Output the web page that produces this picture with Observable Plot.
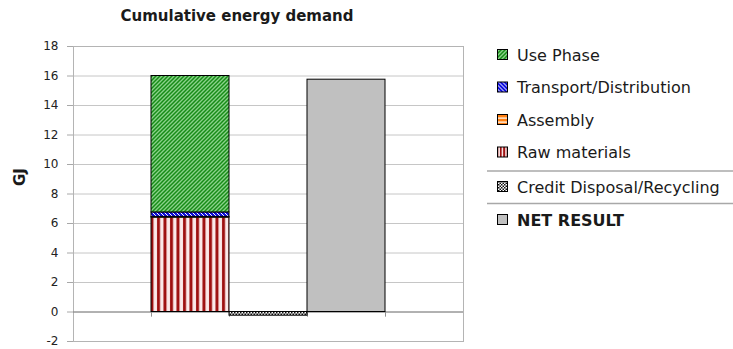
<!DOCTYPE html>
<html>
<head>
<meta charset="utf-8">
<script src="https://cdn.jsdelivr.net/npm/d3@7"></script>
<script src="https://cdn.jsdelivr.net/npm/@observablehq/plot@0.6"></script>
<style>
  html, body { margin: 0; padding: 0; background: #fff; }
  #wrap { position: relative; width: 733px; height: 349px; overflow: hidden; font-family: "DejaVu Sans", sans-serif; }
  #wrap > svg { position: absolute; left: 0; top: 0; }
</style>
</head>
<body>
<!-- hatch fills shared by the bars and the legend keys -->
<svg width="0" height="0" style="position:absolute">
  <defs>
    <pattern id="pat-use" patternUnits="userSpaceOnUse" width="4" height="4">
      <rect width="4" height="4" fill="#8ad28a"/>
      <path d="M-1,1 l2,-2 M0,4 l4,-4 M3,5 l2,-2" stroke="#178c17" stroke-width="1.5"/>
    </pattern>
    <pattern id="pat-transport" patternUnits="userSpaceOnUse" width="4" height="4">
      <rect width="4" height="4" fill="#1010e0"/>
      <path d="M-1,3 l2,2 M0,0 l4,4 M3,-1 l2,2" stroke="#ffffff" stroke-width="1"/>
    </pattern>
    <pattern id="pat-assembly" patternUnits="userSpaceOnUse" width="4" height="4">
      <rect width="4" height="4" fill="#ff7f10"/>
      <rect y="1.5" width="4" height="1.2" fill="#ffffff"/>
    </pattern>
    <pattern id="pat-raw" patternUnits="userSpaceOnUse" width="6.5" height="4">
      <rect width="6.5" height="4" fill="#fbeaea"/>
      <rect x="1" width="3" height="4" fill="#9e1010"/>
    </pattern>
    <pattern id="pat-raw-key" patternUnits="userSpaceOnUse" width="3.4" height="4">
      <rect width="3.4" height="4" fill="#ffffff"/>
      <rect width="2" height="4" fill="#9e1010"/>
    </pattern>
    <pattern id="pat-credit" patternUnits="userSpaceOnUse" width="3" height="3">
      <rect width="3" height="3" fill="#ffffff"/>
      <rect width="1.5" height="1.5" fill="#111"/>
      <rect x="1.5" y="1.5" width="1.5" height="1.5" fill="#111"/>
    </pattern>
  </defs>
</svg>
<div id="wrap"></div>
<script>
// Life-cycle stages, the slot each one stands in on the category axis, and GJ values
const series = ["Raw materials", "Assembly", "Transport/Distribution", "Use Phase", "Credit Disposal/Recycling", "NET RESULT"];
const column = [1, 1, 1, 1, 2, 3];
const values = [6.4, 0.05, 0.3, 9.25, -0.25, 15.75];
const slotCount = 5;

// Legend rows, top to bottom
const legendOrder = ["Use Phase", "Transport/Distribution", "Assembly", "Raw materials", "Credit Disposal/Recycling", "NET RESULT"];
const yTicks = [-2, 0, 2, 4, 6, 8, 10, 12, 14, 16, 18];

const fills = {
  "Raw materials": "url(#pat-raw)",
  "Assembly": "url(#pat-assembly)",
  "Transport/Distribution": "url(#pat-transport)",
  "Use Phase": "url(#pat-use)",
  "Credit Disposal/Recycling": "url(#pat-credit)",
  "NET RESULT": "#c0c0c0"
};
const keyFills = {...fills, "Raw materials": "url(#pat-raw-key)"};

const rows = series.map((s, i) => ({series: s, slot: column[i], value: values[i]}));

const chart = Plot.plot({
  width: 733,
  height: 349,
  marginLeft: 73,
  marginRight: 270,
  marginTop: 46,
  marginBottom: 8,
  style: {fontFamily: "DejaVu Sans", fontSize: "12px", color: "#222", background: "transparent"},
  x: {domain: [0, slotCount], axis: null},
  y: {domain: [-2, 18], axis: null},
  color: {type: "identity"},
  marks: [
    Plot.gridY(yTicks, {stroke: "#c6c6c6", strokeOpacity: 1}),
    Plot.frame({stroke: "#b4b4b4"}),
    Plot.axisY({ticks: yTicks, tickSize: 6, tickPadding: 9, stroke: "#a8a8a8", label: null, tickFormat: d => String(d)}),
    Plot.ruleY([0], {stroke: "#808080"}),
    Plot.ruleX(d3.range(1, slotCount), {y1: 0, y2: -0.35, stroke: "#909090"}),
    Plot.rectY(rows, Plot.stackY({
      x1: "slot",
      x2: d => d.slot + 1,
      y: "value",
      z: "series",
      fill: d => fills[d.series],
      stroke: "#000",
      strokeWidth: 1
    }))
  ]
});

const wrap = document.getElementById("wrap");
wrap.appendChild(chart);

// Title, axis name and legend
const svg = d3.select(wrap).append("svg")
  .attr("width", 733).attr("height", 349)
  .style("font-family", "'DejaVu Sans', sans-serif");

svg.append("text")
  .attr("x", 237).attr("y", 20.5)
  .attr("text-anchor", "middle")
  .attr("font-size", 15).attr("font-weight", "bold").attr("fill", "#1a1a1a")
  .text("Cumulative energy demand");

svg.append("text")
  .attr("transform", "translate(25,177) rotate(-90)")
  .attr("text-anchor", "middle")
  .attr("font-size", 15).attr("font-weight", "bold").attr("fill", "#1a1a1a")
  .text("GJ");

const keyY = [55, 87.5, 120, 152.5, 187, 220];
const separators = [171, 203.5];

svg.selectAll("line.sep").data(separators).join("line")
  .attr("class", "sep")
  .attr("x1", 487).attr("x2", 733)
  .attr("y1", d => d).attr("y2", d => d)
  .attr("stroke", "#a8a8a8").attr("stroke-width", 1.5);

const key = svg.selectAll("g.key").data(legendOrder).join("g")
  .attr("class", "key")
  .attr("transform", (d, i) => `translate(0,${keyY[i]})`);

key.append("rect")
  .attr("x", 497.5).attr("y", -5.5)
  .attr("width", 10).attr("height", 10)
  .attr("fill", d => keyFills[d])
  .attr("stroke", "#000").attr("stroke-width", 1);

key.append("text")
  .attr("x", 517).attr("y", 0)
  .attr("dy", "0.36em")
  .attr("font-size", 16)
  .attr("font-weight", d => d === "NET RESULT" ? "bold" : "normal")
  .attr("fill", "#1a1a1a")
  .text(d => d);
</script>
</body>
</html>
